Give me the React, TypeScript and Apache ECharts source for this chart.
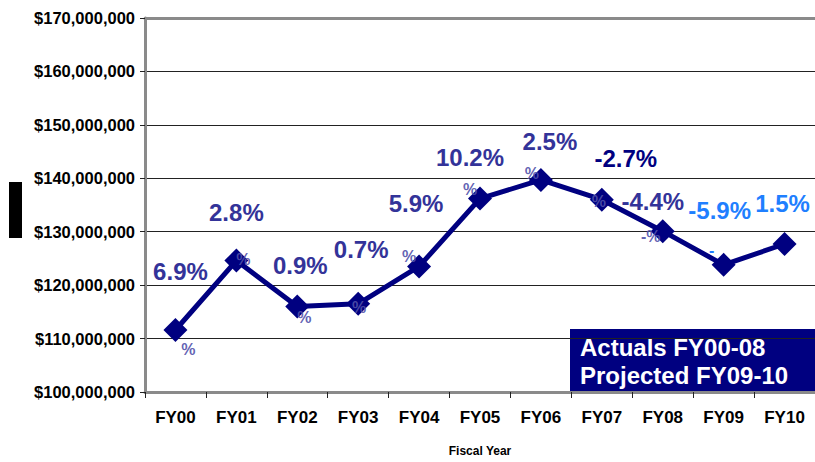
import React, { useEffect, useRef } from "react";
import * as echarts from "echarts";

const categories = ["FY00", "FY01", "FY02", "FY03", "FY04", "FY05", "FY06", "FY07", "FY08", "FY09", "FY10"];
const revenue = [111600000, 124600000, 116000000, 116500000, 123500000, 136200000, 139700000, 136000000, 130100000, 123800000, 127700000];
const growthLabels = ["6.9%", "2.8%", "0.9%", "0.7%", "5.9%", "10.2%", "2.5%", "-2.7%", "-4.4%", "-5.9%", "1.5%"];
const wrapLabels = ["%", "%", "%", "%", "%", "%", "%", "%", "-%", "-", ""];
const yTicks = { min: 100000000, max: 170000000, interval: 10000000 };
const legendLines = ["Actuals FY00-08", "Projected FY09-10"];

// layout (label placement relative to each point)
const bigOffsets: [number, number][] = [
  [5, -59], [0, -48], [3, -41], [3, -54], [-3, -63], [-10, -41], [9, -38], [24, -41], [-10, -30], [-4, -54], [-2, -41],
];
const smallOffsets: [number, number][] = [
  [13, 19], [7, -1], [7, 11], [1, 4], [-10, -10], [-10, -9], [-9, -6], [-3, 2], [-12, 5], [-12, -14], [0, 0],
];
const bigColors = ["#333399", "#333399", "#333399", "#333399", "#333399", "#333399", "#333399", "#000080", "#333399", "#1f7fff", "#1f7fff"];
const SMALL = "rgba(80,80,170,0.9)";
const smallColors = [SMALL, SMALL, SMALL, SMALL, SMALL, SMALL, SMALL, SMALL, SMALL, "#1f7fff", "#1f7fff"];

const FONT = "'Liberation Sans', Arial, sans-serif";

function fmtMoney(v: number) {
  return "$" + v.toLocaleString("en-US");
}

export default function App() {
  const ref = useRef<HTMLDivElement>(null);
  useEffect(() => {
    if (!ref.current) return;
    const chart = echarts.init(ref.current, null, { renderer: "svg" });
    chart.setOption({
      animation: false,
      backgroundColor: "#ffffff",
      grid: { left: 145, right: 0, top: 18, height: 381, containLabel: false },
      xAxis: [
        {
          type: "category",
          data: categories,
          boundaryGap: true,
          axisLine: { show: true, lineStyle: { color: "#8a8a8a", width: 3 } },
          axisTick: { show: true, length: 6, lineStyle: { color: "#222", width: 1 } },
          axisLabel: { margin: 17, fontFamily: FONT, fontSize: 17, fontWeight: "bold", color: "#000" },
          name: "Fiscal Year",
          nameLocation: "middle",
          nameGap: 53,
          nameTextStyle: { fontFamily: FONT, fontSize: 12, fontWeight: "bold", color: "#000" },
          splitLine: { show: false },
        },
        {
          type: "category",
          data: categories,
          position: "top",
          axisLine: { show: true, lineStyle: { color: "#8a8a8a", width: 3 } },
          axisTick: { show: false },
          axisLabel: { show: false },
        },
      ],
      yAxis: {
        type: "value",
        min: yTicks.min,
        max: yTicks.max,
        interval: yTicks.interval,
        axisLine: { show: true, lineStyle: { color: "#8a8a8a", width: 3 } },
        axisTick: { show: true, length: 5, lineStyle: { color: "#222", width: 1 } },
        axisLabel: {
          margin: 10,
          fontFamily: FONT,
          fontSize: 16.5,
          fontWeight: "bold",
          color: "#000",
          formatter: (v: number) => fmtMoney(v),
        },
        splitLine: { show: true, lineStyle: { color: "#222", width: 1 } },
      },
      series: [
        {
          type: "line",
          data: revenue.map((v, i) => ({
            value: v,
            label: {
              show: true,
              position: "inside",
              offset: bigOffsets[i],
              formatter: growthLabels[i],
              color: bigColors[i],
              fontFamily: FONT,
              fontSize: 24,
              fontWeight: "bold",
            },
          })),
          symbol: "diamond",
          symbolSize: 24,
          itemStyle: { color: "#000080" },
          lineStyle: { color: "#000080", width: 5 },
          z: 3,
        },
        {
          type: "line",
          data: revenue.map((v, i) => ({
            value: v,
            label: {
              show: wrapLabels[i] !== "",
              position: "inside",
              offset: smallOffsets[i],
              formatter: wrapLabels[i],
              color: smallColors[i],
              fontFamily: FONT,
              fontSize: 16,
              fontWeight: "bold",
            },
          })),
          symbol: "circle",
          symbolSize: 1,
          showSymbol: true,
          itemStyle: { color: "rgba(0,0,0,0)" },
          lineStyle: { width: 0, color: "rgba(0,0,0,0)" },
          z: 4,
          silent: true,
        },
      ],
      graphic: [
        { type: "rect", left: 9, top: 182, shape: { width: 13, height: 56 }, style: { fill: "#000" } },
        {
          type: "group",
          left: 570,
          top: 329,
          children: [
            { type: "rect", shape: { x: 0, y: 0, width: 245, height: 65 }, style: { fill: "#000080" } },
            {
              type: "text",
              x: 10,
              y: 18,
              style: { text: legendLines[0], fill: "#fff", font: `bold 24px ${FONT}`, verticalAlign: "middle" },
            },
            {
              type: "text",
              x: 10,
              y: 46,
              style: { text: legendLines[1], fill: "#fff", font: `bold 24px ${FONT}`, verticalAlign: "middle" },
            },
          ],
        },
      ],
    });
    return () => chart.dispose();
  }, []);
  return <div ref={ref} style={{ position: "absolute", left: 0, top: 0, width: 815, height: 462 }} />;
}
